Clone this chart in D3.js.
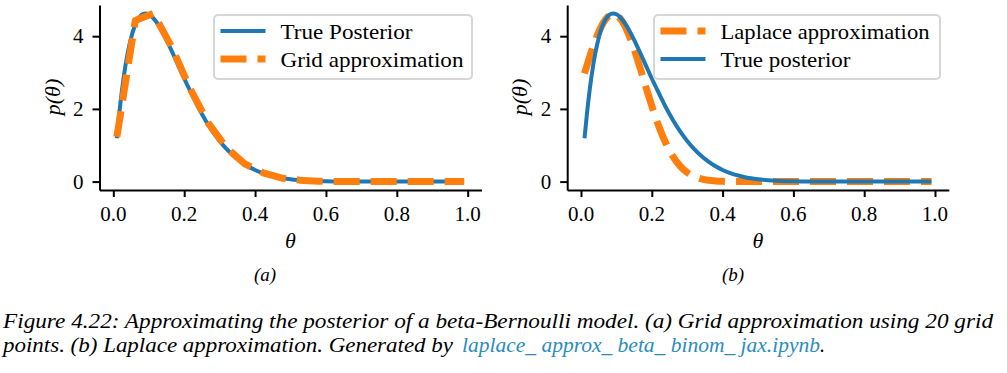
<!DOCTYPE html>
<html>
<head>
<meta charset="utf-8">
<script src="https://cdn.jsdelivr.net/npm/d3@7"></script>
<style>
    @font-face { font-family: "SerifLocal"; src: local("Liberation Serif"), local("LiberationSerif"); font-style: normal; }
    @font-face { font-family: "SerifLocal"; src: local("Liberation Serif Italic"), local("LiberationSerif-Italic"); font-style: italic; }
    body { margin: 0; background: #fff; }
    svg text { font-family: "Liberation Serif", "SerifLocal", "Times New Roman", serif !important; }
</style>
</head>
<body>
<div id="grafica"></div>
<script>
"use strict";

// theta values for the smooth curves
const thetaFino = [0.01, 0.02, 0.03, 0.04, 0.05, 0.06, 0.07, 0.08, 0.09, 0.10,
    0.11, 0.12, 0.13, 0.14, 0.15, 0.16, 0.17, 0.18, 0.19, 0.20,
    0.22, 0.24, 0.26, 0.28, 0.30, 0.32, 0.34, 0.36, 0.38, 0.40,
    0.42, 0.44, 0.46, 0.48, 0.50, 0.55, 0.60, 0.65, 0.70, 0.75,
    0.80, 0.85, 0.90, 0.95, 0.99];
const posteriorReal = [1.194, 2.157, 2.920, 3.510, 3.952, 4.266, 4.472, 4.587, 4.626, 4.603,
    4.528, 4.411, 4.263, 4.090, 3.898, 3.694, 3.482, 3.266, 3.049, 2.835,
    2.432, 2.039, 1.690, 1.384, 1.119, 0.893, 0.704, 0.548, 0.421, 0.319,
    0.239, 0.176, 0.128, 0.092, 0.065, 0.025, 0.008, 0.002, 0.001, 0,
    0, 0, 0, 0, 0];
const laplace = [2.976, 3.293, 3.595, 3.872, 4.117, 4.318, 4.469, 4.565, 4.601, 4.576,
    4.491, 4.349, 4.156, 3.919, 3.647, 3.348, 3.034, 2.713, 2.393, 2.084,
    1.517, 1.048, 0.686, 0.426, 0.251, 0.140, 0.074, 0.037, 0.018, 0.008,
    0.003, 0.001, 0, 0, 0, 0, 0, 0, 0, 0,
    0, 0, 0, 0, 0];

// 20 grid points
const thetaGrilla = [0.010, 0.062, 0.113, 0.165, 0.216, 0.268, 0.319, 0.371, 0.423, 0.474,
    0.526, 0.577, 0.629, 0.681, 0.732, 0.784, 0.835, 0.887, 0.938, 0.990];
const posteriorGrilla = [1.23, 4.43, 4.63, 3.70, 2.57, 1.61, 0.93, 0.49, 0.24, 0.10,
    0.04, 0.01, 0, 0, 0, 0, 0, 0, 0, 0];

const ticksX = [0, 0.2, 0.4, 0.6, 0.8, 1.0];
const ticksY = [0, 2, 4];

const AZUL = "#1f77b4", NARANJA = "#ff7f0e";
const FUENTE = "Liberation Serif";

const svg = d3.select("#grafica").append("svg")
    .attr("width", 1007)
    .attr("height", 373)
    .attr("font-family", FUENTE);
svg.append("rect").attr("width", 1007).attr("height", 373).attr("fill", "#fff");

function texto(x, y, tam, cursiva, contenido) {
    return svg.append("text")
        .attr("x", x).attr("y", y)
        .attr("font-family", FUENTE)
        .attr("font-size", tam)
        .attr("font-style", cursiva ? "italic" : null)
        .style("font-family", "'Liberation Serif', SerifLocal, serif")
        .text(contenido);
}

function serie(xs, ys) {
    return xs.map((x, i) => ({ x: x, y: ys[i] }));
}

function crearPanel(izq, der, series, leyenda, sub) {
    let x = d3.scaleLinear().domain([-0.039, 1.039]).range([izq, der]);
    let y = d3.scaleLinear().domain([-0.2313, 4.858]).range([190, 5]);
    let g = svg.append("g");

    // curves
    series.forEach(function (s) {
        let linea = d3.line()
            .x(d => x(d.x))
            .y(d => y(d.y))
            .curve(s.suave ? d3.curveMonotoneX : d3.curveLinear);
        g.append("path")
            .datum(serie(s.xs, s.ys))
            .attr("d", linea)
            .attr("fill", "none")
            .attr("stroke", s.color)
            .attr("stroke-width", s.ancho)
            .attr("stroke-dasharray", s.guiones || null)
            .attr("stroke-linejoin", "round");
    });

    // axes: lines from d3.axis, labels drawn with the same scales
    let ejeX = g.append("g")
        .attr("transform", "translate(0,190)")
        .call(d3.axisBottom(x).tickValues(ticksX).tickFormat("").tickSize(7).tickSizeOuter(0));
    let ejeY = g.append("g")
        .attr("transform", "translate(" + izq + ",0)")
        .call(d3.axisLeft(y).tickValues(ticksY).tickFormat("").tickSize(7).tickSizeOuter(0));
    [ejeX, ejeY].forEach(function (e) {
        e.attr("font-family", null);
        e.select(".domain").attr("stroke-width", 2);
        e.selectAll(".tick line").attr("stroke-width", 2);
        e.selectAll("text").remove();
    });
    ticksX.forEach(function (t) {
        texto(x(t), 220.7, 21, false, d3.format(".1f")(t)).attr("text-anchor", "middle");
    });
    ticksY.forEach(function (t) {
        texto(izq - 16, y(t) + 7, 21, false, String(t)).attr("text-anchor", "end");
    });

    // labels
    let centro = (izq + der) / 2;
    texto(centro, 248, 22, true, "θ").attr("text-anchor", "middle");
    texto(0, 0, 22, true, "p(θ)")
        .attr("transform", "translate(" + (izq - 40) + ",97) rotate(-90)")
        .attr("text-anchor", "middle");
    texto(sub.x, 281, 19, true, sub.texto).attr("text-anchor", "middle");

    // legend
    svg.append("rect")
        .attr("x", leyenda.x).attr("y", 15)
        .attr("width", leyenda.ancho).attr("height", 64)
        .attr("rx", 4)
        .attr("fill", "#fff").attr("fill-opacity", 0.8)
        .attr("stroke", "#d6d6d6").attr("stroke-width", 2);
    leyenda.items.forEach(function (it, i) {
        let yy = 31 + i * 28;
        svg.append("line")
            .attr("x1", leyenda.x + 6.5).attr("x2", leyenda.x + 51.5)
            .attr("y1", yy).attr("y2", yy)
            .attr("stroke", it.color)
            .attr("stroke-width", it.ancho)
            .attr("stroke-dasharray", it.guiones || null);
        texto(leyenda.x + 66.5, yy + 7.5, 22, false, it.texto)
            .attr("textLength", it.largo)
            .attr("lengthAdjust", "spacingAndGlyphs");
    });
}

// panel (a)
crearPanel(99.5, 481.5, [
    { xs: thetaFino, ys: posteriorReal, color: AZUL, ancho: 4, suave: true },
    { xs: thetaGrilla, ys: posteriorGrilla, color: NARANJA, ancho: 7, guiones: "26,11" }
], {
    x: 214, ancho: 258,
    items: [
        { texto: "True Posterior", color: AZUL, ancho: 4, largo: 132 },
        { texto: "Grid approximation", color: NARANJA, ancho: 7, guiones: "26,11", largo: 183 }
    ]
}, { x: 265, texto: "(a)" });

// panel (b)
crearPanel(567.2, 948.8, [
    { xs: thetaFino, ys: laplace, color: NARANJA, ancho: 7, guiones: "26,11", suave: true },
    { xs: thetaFino, ys: posteriorReal, color: AZUL, ancho: 4, suave: true }
], {
    x: 654, ancho: 286,
    items: [
        { texto: "Laplace approximation", color: NARANJA, ancho: 7, guiones: "26,11", largo: 209 },
        { texto: "True posterior", color: AZUL, ancho: 4, largo: 130 }
    ]
}, { x: 733, texto: "(b)" });

// caption
texto(3, 327.5, 20, true, "Figure 4.22: Approximating the posterior of a beta-Bernoulli model. (a) Grid approximation using 20 grid")
    .attr("textLength", 990).attr("lengthAdjust", "spacingAndGlyphs");
texto(3, 351.5, 20, true, "points. (b) Laplace approximation. Generated by")
    .attr("textLength", 450).attr("lengthAdjust", "spacingAndGlyphs");
texto(462, 351.5, 20, true, "laplace_ approx_ beta_ binom_ jax.ipynb")
    .attr("textLength", 358).attr("lengthAdjust", "spacingAndGlyphs")
    .attr("fill", "#2b8cbe");
texto(820, 351.5, 20, true, ".");
</script>
</body>
</html>
